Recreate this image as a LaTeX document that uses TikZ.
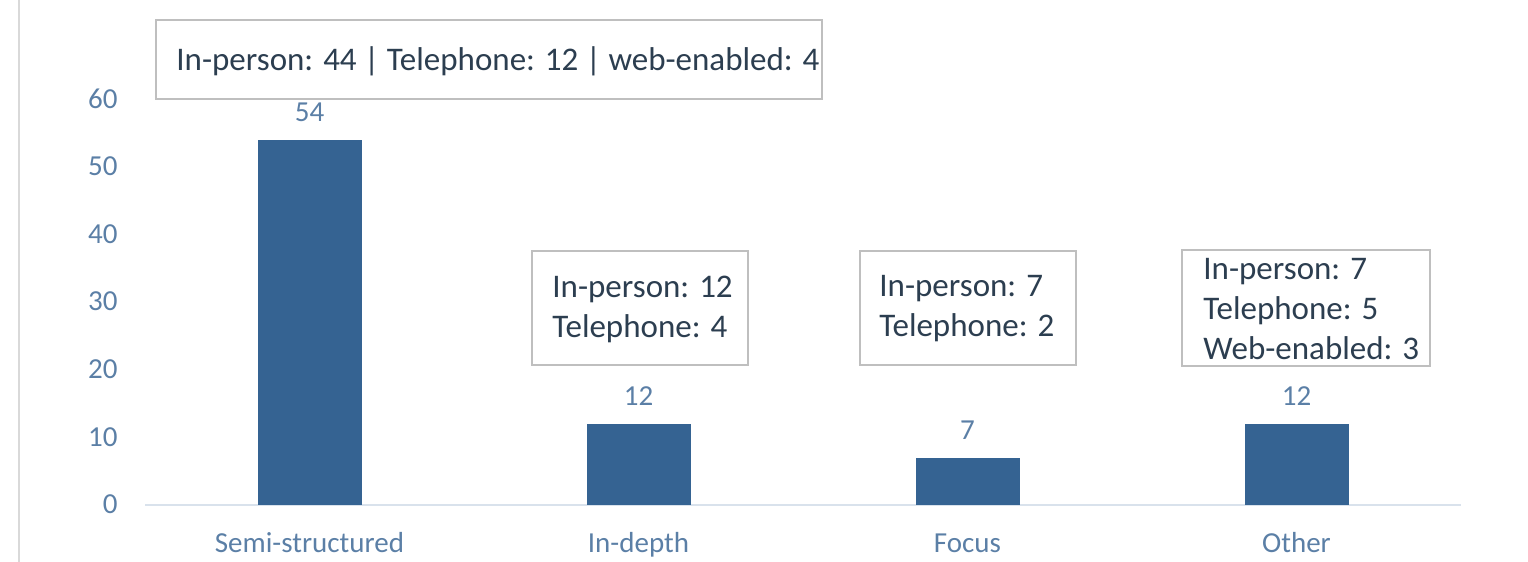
\documentclass[tikz,border=0pt]{standalone}
\usepackage{fontspec}
\setmainfont{Carlito}
\definecolor{barblue}{RGB}{53,99,146}
\definecolor{axtext}{RGB}{91,127,166}
\definecolor{boxtext}{RGB}{44,62,80}
\definecolor{frame}{RGB}{191,191,191}
\definecolor{axline}{RGB}{217,226,236}
\definecolor{edgerule}{RGB}{217,217,217}
\tikzset{
  barfill/.style={fill=barblue, draw=none},
  ylab/.style={anchor=base east, inner sep=0pt, text=axtext, font=\fontsize{14.5}{17}\selectfont},
  catlab/.style={anchor=base, inner sep=0pt, text=axtext, font=\fontsize{14.5}{17}\selectfont},
  vallab/.style={anchor=base, inner sep=0pt, text=axtext, font=\fontsize{14.5}{17}\selectfont},
  frameline/.style={draw=frame, line width=1.2pt, fill=white},
  boxlab/.style={anchor=west, inner sep=0pt, align=left, text=boxtext, font=\fontsize{16.5}{20}\selectfont},
}
\begin{document}
\begin{tikzpicture}[x=0.5pt, y=-0.5pt]
\useasboundingbox (0,0) rectangle (1528,562);
% left page rule
\coordinate (rt) at (19,0);
\coordinate (rb) at (19,562);
\draw[draw=edgerule, line width=1pt] (rt) -- (rb);
% category axis
\coordinate (ax0) at (145,505);
\coordinate (ax1) at (1461,505);
\draw[draw=axline, line width=1pt] (ax0) -- (ax1);
% value axis labels
\foreach \v in {0,10,...,60}
  \node[ylab] (y\v) at (118,{505-6.76*\v+8.6}) {\v};
% bars, value labels and categories
\foreach \i/\cx/\val/\cat in {1/309.5/54/Semi-structured, 2/638.5/12/In-depth, 3/967.5/7/Focus, 4/1296.5/12/Other}{
  \path[barfill] ({\cx-52},505) rectangle ({\cx+52},{505-6.76*\val});
  \node[vallab] (v\i) at (\cx,{505-6.76*\val-18}) {\val};
  \node[catlab] (c\i) at (\cx,552) {\cat};
}
% callout boxes
\draw[frameline] (156,20) rectangle (822,99);
\node[boxlab] (t1) at (176,61) {In-person: 44 | Telephone: 12 | web-enabled: 4};
\draw[frameline] (532,251) rectangle (748,365);
\node[boxlab] (t2) at (552,309) {In-person: 12\\Telephone: 4};
\draw[frameline] (860,251) rectangle (1076,365);
\node[boxlab] (t3) at (879,309) {In-person: 7\\Telephone: 2};
\draw[frameline] (1182,250) rectangle (1430,366);
\node[boxlab] (t4) at (1203,309) {In-person: 7\\Telephone: 5\\Web-enabled: 3};
\end{tikzpicture}
\end{document}
